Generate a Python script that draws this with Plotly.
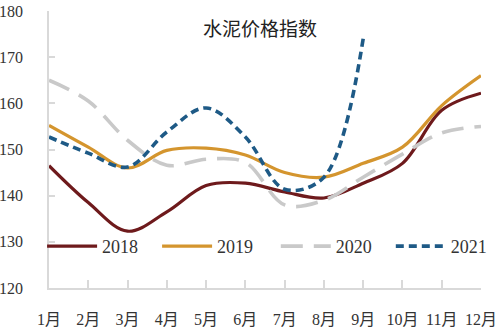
import plotly.graph_objects as go

months = ["1月", "2月", "3月", "4月", "5月", "6月", "7月", "8月", "9月", "10月", "11月", "12月"]
y2018 = [146.5, 138.5, 132.3, 136.5, 142.2, 142.7, 140.8, 139.5, 142.7, 147.0, 158.5, 162.2]
y2019 = [155.2, 150.5, 146.0, 149.8, 150.3, 148.8, 145.0, 144.0, 147.0, 150.5, 159.5, 166.0]
y2020 = [165.0, 160.5, 152.0, 146.6, 147.9, 147.2, 138.0, 139.0, 144.0, 149.0, 153.6, 155.0]
y2021 = [152.7, 149.2, 146.2, 153.8, 159.0, 152.7, 141.4, 144.0, 174.0]
series_names = ["2018", "2019", "2020", "2021"]
title_text = "水泥价格指数"

xidx = list(range(len(months)))
styles = [
    dict(color="#6E1A1C", width=3.2, dash="solid"),
    dict(color="#D4952E", width=3.2, dash="solid"),
    dict(color="#C9C9C9", width=3.6, dash="22px,11px"),
    dict(color="#1E5A86", width=3.6, dash="8px,5px"),
]
legend_ids = ["legend", "legend", "legend2", "legend2"]
fig = go.Figure()
for name, ys, st, lg in zip(series_names, [y2018, y2019, y2020, y2021], styles, legend_ids):
    fig.add_trace(go.Scatter(
        x=xidx[:len(ys)], y=ys, name=name, mode="lines", legend=lg,
        line=dict(shape="spline", smoothing=1.0, **st),
    ))

font_fam = "'Liberation Serif', 'Noto Sans CJK SC', serif"
leg_common = dict(orientation="h", y=0.15, xanchor="left", yanchor="middle",
                  font=dict(family=font_fam, size=18, color="#333"),
                  bgcolor="rgba(0,0,0,0)", entrywidth=50, entrywidthmode="pixels",
                  itemwidth=50, tracegroupgap=0)
fig.update_layout(
    width=500, height=331,
    margin=dict(l=49, r=19, t=11, b=43, autoexpand=False),
    paper_bgcolor="white", plot_bgcolor="white",
    showlegend=True,
    legend=dict(x=-0.016, **leg_common),
    legend2=dict(x=0.525, **leg_common),
    font=dict(family=font_fam, color="#333"),
)
fig.update_xaxes(
    range=[0, 11], tickvals=xidx, ticktext=months, automargin=False,
    showgrid=False, zeroline=False, showline=True, linecolor="#D9D9D9", linewidth=1.5,
    ticks="inside", ticklen=8, tickcolor="#D9D9D9", tickwidth=1.5,
    ticklabelstandoff=16,
    tickfont=dict(family=font_fam, size=16, color="#333"),
)
fig.update_yaxes(
    range=[120, 180], dtick=10, tick0=120, automargin=False,
    showgrid=False, zeroline=False, showline=True, linecolor="#D9D9D9", linewidth=1.5,
    ticks="inside", ticklen=6, tickcolor="#D9D9D9", tickwidth=1.5,
    ticklabelstandoff=21,
    tickfont=dict(family=font_fam, size=16, color="#333"),
)
fig.add_annotation(
    text=title_text, xref="paper", yref="paper", x=0.488, y=0.94,
    xanchor="center", yanchor="middle", showarrow=False,
    font=dict(family="'Noto Sans CJK SC', sans-serif", size=19, color="#222"),
)
fig.write_html("out.html")
